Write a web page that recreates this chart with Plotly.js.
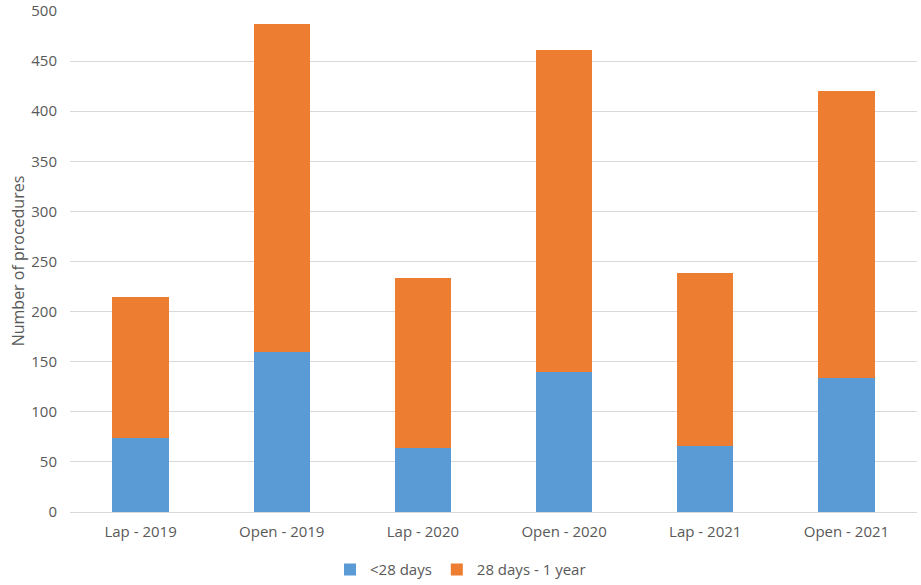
<!DOCTYPE html>
<html>
<head>
<meta charset="utf-8">
<script src="https://cdn.plot.ly/plotly-3.0.1.min.js"></script>
<style>html,body{margin:0;padding:0;background:#fff;}#chart{width:921px;height:585px;}</style>
</head>
<body>
<div id="chart"></div>
<script>
const categories = ["Lap - 2019", "Open - 2019", "Lap - 2020", "Open - 2020", "Lap - 2021", "Open - 2021"];
const under28 = [74, 160, 64, 140, 66, 134];
const days28to1yr = [141, 327, 170, 321, 173, 286];
const yTicks = [0, 50, 100, 150, 200, 250, 300, 350, 400, 450, 500];

const font = "Open Sans, Liberation Sans, sans-serif";
const data = [
  {type: "bar", name: "<28 days", x: categories, y: under28, marker: {color: "#5b9bd5"}},
  {type: "bar", name: "28 days - 1 year", x: categories, y: days28to1yr, marker: {color: "#ed7d31"}}
];
const layout = {
  width: 921, height: 585,
  barmode: "stack", bargap: 0.6,
  margin: {l: 70, r: 4, t: 10, b: 73, autoexpand: false},
  paper_bgcolor: "#fff", plot_bgcolor: "#fff",
  font: {family: font, color: "#595959", size: 15},
  xaxis: {showline: true, linecolor: "#d9d9d9", linewidth: 1, ticks: "", tickfont: {size: 15, color: "#595959"}, ticklabelstandoff: 6, fixedrange: true},
  yaxis: {range: [0, 501], tickvals: yTicks, showgrid: true, gridcolor: "#d9d9d9", gridwidth: 1, zeroline: false, showline: false, ticks: "", ticklen: 0, ticklabelstandoff: 12, ticklabeloverflow: "allow", tickfont: {size: 15, color: "#595959"},
          title: {text: "Number of procedures", font: {size: 16, color: "#595959"}, standoff: 2}},
  legend: {orientation: "h", x: 0.5, xanchor: "center", xref: "container", yref: "container", y: 0.026, yanchor: "middle", font: {size: 15, color: "#595959"}, traceorder: "normal", itemwidth: 20},
  showlegend: true
};
Plotly.newPlot("chart", data, layout, {displayModeBar: false, staticPlot: true});
</script>
</body>
</html>
